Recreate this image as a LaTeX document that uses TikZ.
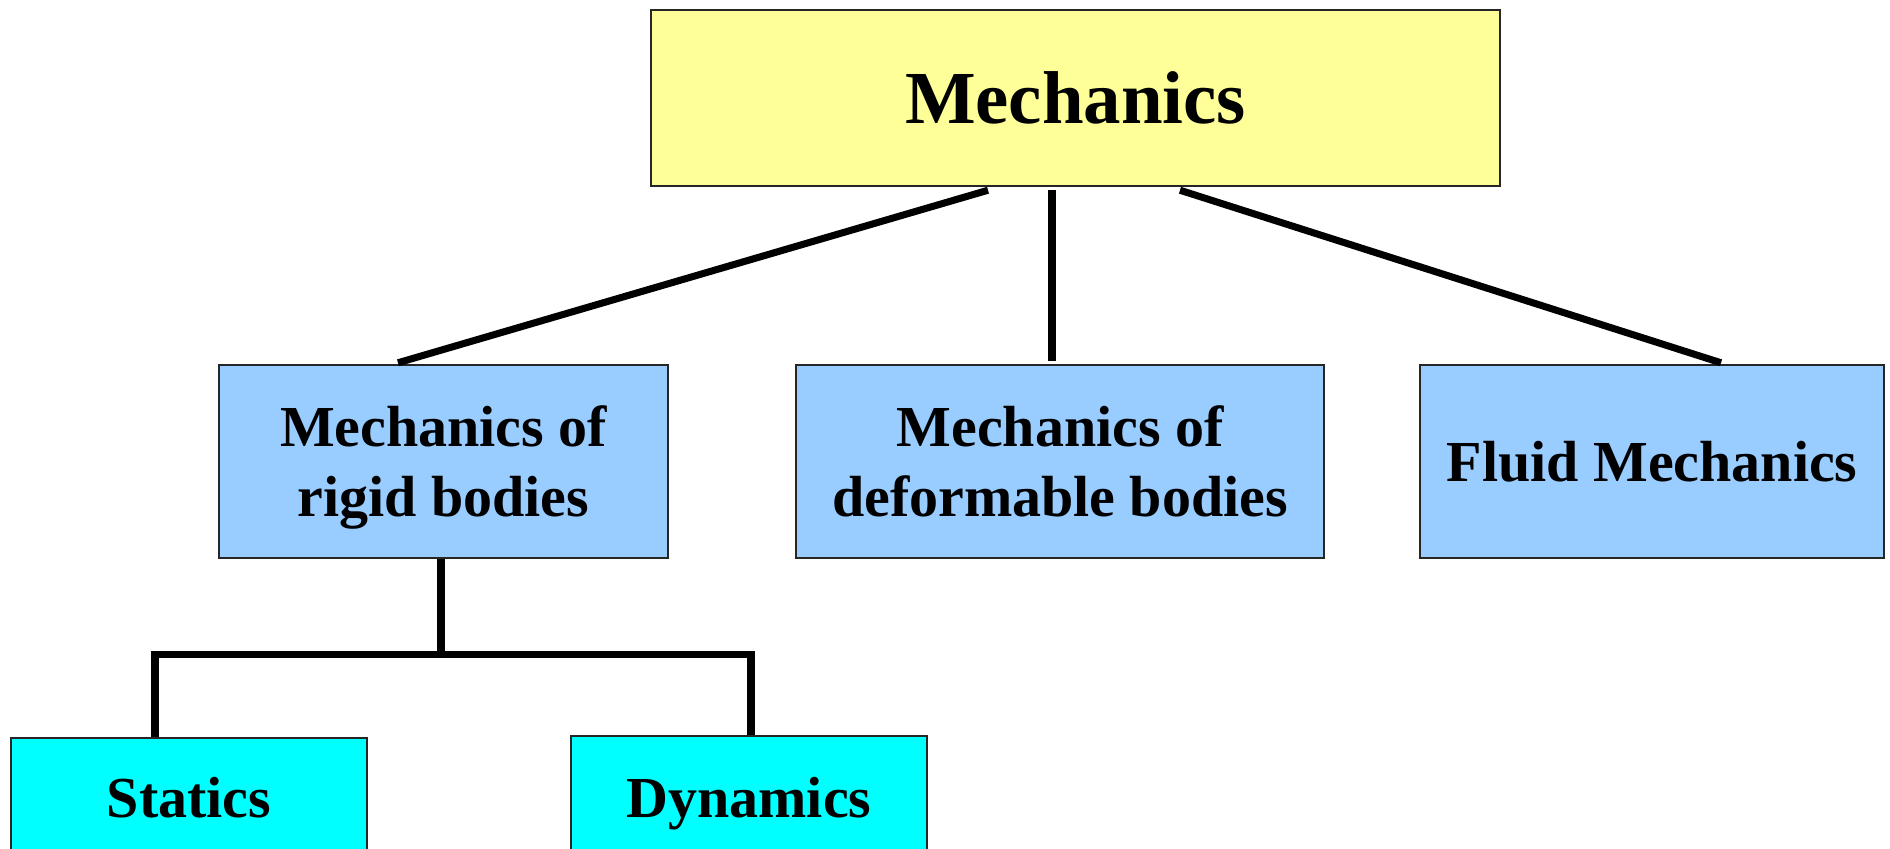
\documentclass[tikz,border=0pt]{standalone}
\usepackage{fontspec}
\setmainfont{Liberation Serif}
\usepackage{tikz}
\usetikzlibrary{calc,positioning}
\definecolor{mechyellow}{RGB}{255,255,153}
\definecolor{mechblue}{RGB}{153,204,255}
\definecolor{mechcyan}{RGB}{0,255,255}

\begin{document}
\begin{tikzpicture}[font=\bfseries\fontsize{16.5}{19.9}\selectfont,
    every node/.style={align=center},
    box/.style={draw=black!85,line width=.7pt,inner sep=0pt},
    leaf/.style={box,fill=mechcyan,minimum width=3.56cm,text depth=0pt},
    link/.style={line width=2pt,line join=miter}]
    \useasboundingbox (0,0) rectangle (18.9,-8.48);
    \clip (0,0) rectangle (18.9,-8.48);
    \node[box,fill=mechyellow,minimum width=8.49cm,minimum height=1.76cm,font=\bfseries\fontsize{21.3}{25}\selectfont] (mech) at (10.755,-.98) {Mechanics};
    \node[box,fill=mechblue,minimum width=4.49cm,minimum height=1.93cm] (rigid) at (4.435,-4.615) {Mechanics of\\ri\smash{g}id bodies};
    \node[box,fill=mechblue,minimum width=5.28cm,minimum height=1.93cm] (deform) at (10.6,-4.615) {Mechanics of\\deformable bodies};
    \node[box,fill=mechblue,minimum width=4.64cm,minimum height=1.93cm] (fluid) at (16.52,-4.615) {Fluid Mechanics};
    \node[leaf,minimum height=1.18cm] (statics) at (1.89,-7.97) {Statics};
    \node[leaf,minimum height=1.22cm] (dynamics) at (7.49,-7.97) {Dynamics};
    % top level
    \draw[link] ($(mech.south)+(-.875,-.03)$) -- ($(rigid.north)+(-.455,.01)$);
    \draw[link] ($(mech.south)+(-.235,-.03)$) -- ($(deform.north)+(-.08,.03)$);
    \draw[link] ($(mech.south)+(1.045,-.03)$) -- ($(fluid.north)+(.69,.01)$);
    % rigid bodies split
    \draw[link] ($(rigid.south)+(-.025,0)$) -- ++(0,-.95) coordinate (split);
    \draw[link] ($(statics.north)+(-.34,0)$) |- (split) -| ($(dynamics.north)+(.02,0)$);
\end{tikzpicture}
\end{document}
